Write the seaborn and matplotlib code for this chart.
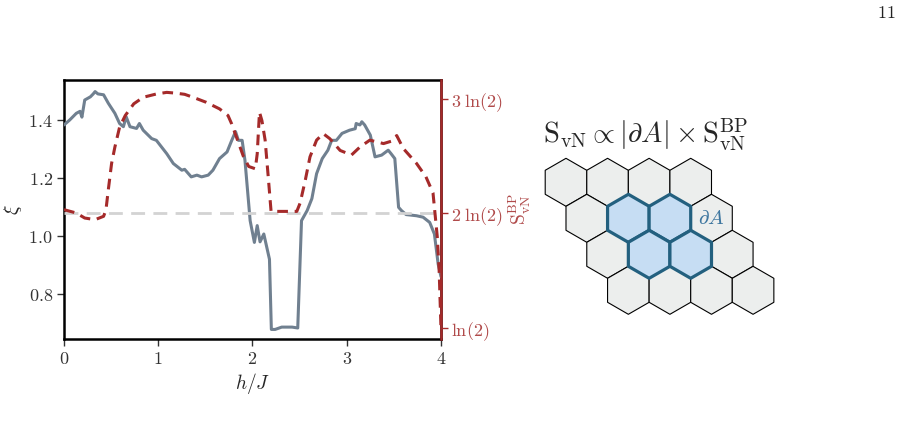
import numpy as np
import seaborn as sns
import matplotlib.pyplot as plt
from matplotlib.patches import RegularPolygon

# correlation length xi vs h/J
h_xi = [0.00, 0.06, 0.13, 0.17, 0.19, 0.22, 0.28, 0.31, 0.33, 0.36,
        0.42, 0.47, 0.54, 0.59, 0.63, 0.66, 0.70, 0.77, 0.80, 0.84,
        0.93, 0.98, 1.09, 1.16, 1.25, 1.28, 1.35, 1.41, 1.46, 1.53,
        1.58, 1.65, 1.73, 1.78, 1.82, 1.85, 1.89, 1.92, 1.975, 2.02,
        2.05, 2.08, 2.12, 2.18, 2.20, 2.24, 2.31, 2.42, 2.48, 2.52,
        2.58, 2.63, 2.68, 2.74, 2.80, 2.84, 2.89, 2.95, 3.03, 3.09,
        3.10, 3.14, 3.16, 3.19, 3.25, 3.30, 3.37, 3.44, 3.47, 3.51,
        3.55, 3.58, 3.63, 3.74, 3.81, 3.88, 3.93, 3.97, 4.00]
xi = [1.383, 1.40, 1.423, 1.43, 1.41, 1.469, 1.48, 1.49, 1.498, 1.49,
      1.487, 1.458, 1.423, 1.388, 1.377, 1.411, 1.377, 1.371, 1.388, 1.365,
      1.336, 1.33, 1.284, 1.25, 1.227, 1.23, 1.204, 1.21, 1.204, 1.21,
      1.227, 1.267, 1.29, 1.33, 1.36, 1.33, 1.33, 1.261, 1.053, 0.978,
      1.036, 0.98, 1.007, 0.92, 0.678, 0.678, 0.686, 0.686, 0.683, 1.053,
      1.088, 1.129, 1.215, 1.267, 1.296, 1.33, 1.33, 1.354, 1.365, 1.37,
      1.388, 1.383, 1.394, 1.383, 1.348, 1.273, 1.279, 1.296, 1.284, 1.267,
      1.099, 1.088, 1.074, 1.07, 1.065, 1.047, 1.007, 0.903, 0.86]

# S_vN^BP in units of ln(2)
h_s = [0.00, 0.13, 0.22, 0.33, 0.42, 0.445, 0.47, 0.505, 0.54, 0.59,
       0.65, 0.74, 0.84, 0.98, 1.09, 1.19, 1.28, 1.37, 1.51, 1.65,
       1.74, 1.78, 1.85, 1.905, 1.96, 2.03, 2.05, 2.074, 2.10, 2.134,
       2.17, 2.197, 2.29, 2.47, 2.505, 2.56, 2.61, 2.68, 2.75, 2.82,
       2.93, 3.05, 3.14, 3.245, 3.39, 3.47, 3.53, 3.60, 3.74, 3.84,
       3.915, 3.96, 3.98, 4.00]
s_bp = [2.033, 2.004, 1.96, 1.946, 1.975, 2.03, 2.206, 2.437, 2.58, 2.754,
        2.855, 2.957, 3.014, 3.043, 3.057, 3.05, 3.04, 3.014, 2.97, 2.913,
        2.855, 2.78, 2.62, 2.494, 2.41, 2.39, 2.52, 2.884, 2.81, 2.64,
        2.29, 2.018, 2.018, 2.018, 2.09, 2.29, 2.494, 2.64, 2.697, 2.653,
        2.55, 2.51, 2.58, 2.64, 2.61, 2.63, 2.68, 2.567, 2.437, 2.32,
        2.18, 1.80, 1.51, 0.99]

x_ticks = [0, 1, 2, 3, 4]
xi_ticks = [0.8, 1.0, 1.2, 1.4]
s_ticks = [1, 2, 3]
s_tick_labels = [r'$\ln(2)$', r'$2\;\ln(2)$', r'$3\;\ln(2)$']

# hexagon patch: (row, col) cells in region A
region_a = [(1, 1), (1, 2), (2, 1), (2, 2)]

LN2 = np.log(2)
grey = '#708090'
red = '#a52a2a'
red_txt = '#b04a4a'

sns.set_style('ticks')
plt.rcParams['mathtext.fontset'] = 'cm'
plt.rcParams['font.family'] = ['DejaVu Serif']

fig = plt.figure(figsize=(9.03, 4.40), dpi=100)
ax = fig.add_axes([64 / 903, 101 / 440, 377 / 903, 259 / 440])

sns.lineplot(x=h_xi, y=xi, ax=ax, color=grey, lw=2.2, zorder=3)
ax.set_xlim(0, 4)
ax.set_ylim(0.645, 1.538)
ax.set_xticks(x_ticks)
ax.set_xticklabels([rf'${t}$' for t in x_ticks], fontsize=13)
ax.set_yticks(xi_ticks)
ax.set_yticklabels([rf'${t:.1f}$' for t in xi_ticks], fontsize=13)
ax.set_xlabel(r'$h/J$', fontsize=14, labelpad=2)
ax.set_ylabel(r'$\xi$', fontsize=14, labelpad=3)
ax.tick_params(direction='out', length=5, width=1, colors='#333333', pad=3)
for sp in ax.spines.values():
    sp.set_linewidth(1.8)
    sp.set_color('black')

ax2 = ax.twinx()
ax2.axhline(2 * LN2, color='#d3d3d3', lw=2.0, ls=(0, (5, 3)), zorder=1)
sns.lineplot(x=h_s, y=np.array(s_bp) * LN2, ax=ax2, color=red, lw=2.2,
             ls=(0, (3.5, 2.2)), zorder=2)
ax2.set_ylim(0.904 * LN2, 3.165 * LN2)
ax2.set_yticks(np.array(s_ticks) * LN2)
ax2.set_yticklabels(s_tick_labels, fontsize=13, color=red_txt)
ax2.set_ylabel(r'$\mathrm{S}_{\mathrm{vN}}^{\mathrm{BP}}$', fontsize=14,
               color=red_txt, labelpad=3)
ax2.tick_params(axis='y', direction='out', length=5, width=1,
                colors=red, labelcolor=red_txt, pad=2)
ax2.spines['right'].set_color(red)
ax2.spines['right'].set_linewidth(1.8)
for name in ['left', 'top', 'bottom']:
    ax2.spines[name].set_visible(False)
ax2.set_zorder(ax.get_zorder() + 1)
ax2.patch.set_visible(False)

# lattice sketch, 1 unit = 24 px
axh = fig.add_axes([540 / 903, 115 / 440, 250 / 903, 175 / 440])
axh.set_xlim(-1.083, 9.333)
axh.set_ylim(-5.946, 1.346)
axh.axis('off')
r3 = np.sqrt(3)
for j in range(4):
    for i in range(4):
        cx, cy = (i + 0.5 * j) * r3, -1.5 * j
        axh.add_patch(RegularPolygon((cx, cy), 6, radius=1.0,
                                     facecolor='#eceeed', edgecolor='black',
                                     lw=0.8, zorder=1))
for j, i in region_a:
    cx, cy = (i + 0.5 * j) * r3, -1.5 * j
    axh.add_patch(RegularPolygon((cx, cy), 6, radius=1.0,
                                 facecolor='#c6ddf3', edgecolor='#23607f',
                                 lw=2.3, zorder=2, joinstyle='round'))
axh.text(3.5 * r3, -1.5, r'$\partial A$', color='#3f77a0',
         fontsize=15, ha='center', va='center', zorder=3)

fig.text(645 / 903, 1 - 135 / 440,
         r'$\mathrm{S}_{\mathrm{vN}} \propto |\partial A| \times '
         r'\mathrm{S}_{\mathrm{vN}}^{\mathrm{BP}}$',
         fontsize=20.5, ha='center', va='center')
fig.text(886 / 903, 1 - 13 / 440, r'$11$', fontsize=13,
         ha='center', va='center', color='#222222')

fig.savefig('out.png', dpi=100)
